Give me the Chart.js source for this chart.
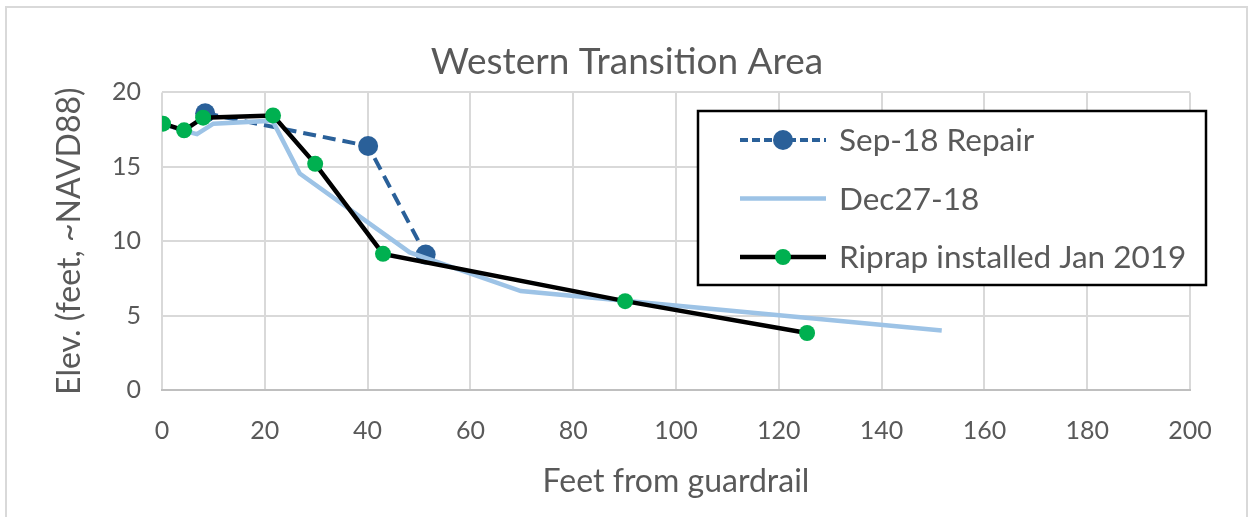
<!DOCTYPE html>
<html>
<head>
<meta charset="utf-8">
<script src="https://cdn.jsdelivr.net/npm/chart.js@4/dist/chart.umd.min.js"></script>
<style>
  html, body { margin: 0; padding: 0; background: #ffffff; }
  #wrap { width: 1254px; height: 517px; }
</style>
</head>
<body>
<div id="wrap"><canvas id="chart" width="1254" height="517"></canvas></div>
<script>
// Cross-section profiles: elevation vs. distance from the guardrail
const chartTitle = 'Western Transition Area';
const xAxisTitle = 'Feet from guardrail';
const yAxisTitle = 'Elev. (feet, ~NAVD88)';

const seriesNames = ['Sep-18 Repair', 'Dec27-18', 'Riprap installed Jan 2019'];

const sepFeet = [8.4, 40.1, 51.3];
const sepElev = [18.6, 16.4, 9.1];

const decFeet = [0, 4.5, 6.8, 10, 21.5, 26.8, 48.2, 69.8, 151.7];
const decElev = [17.9, 17.4, 17.2, 17.9, 18.1, 14.55, 9.25, 6.65, 4.0];

const ripFeet = [0.2, 4.3, 8.0, 21.6, 29.8, 43.0, 90.1, 125.5];
const ripElev = [17.9, 17.45, 18.3, 18.45, 15.2, 9.15, 5.97, 3.83];

const xTickMin = 0, xTickMax = 200, xTickStep = 20;
const yTickMin = 0, yTickMax = 20, yTickStep = 5;

const textGray = '#595959';
const fontFamily = 'Lato, "Open Sans", sans-serif';

function toPoints(xs, ys) {
  return xs.map((x, i) => ({ x: x, y: ys[i] }));
}

// White page with the light grey chart frame
const framePlugin = {
  id: 'frame',
  beforeDraw(chart) {
    const ctx = chart.ctx;
    ctx.save();
    ctx.fillStyle = '#ffffff';
    ctx.fillRect(0, 0, chart.width, chart.height);
    ctx.strokeStyle = '#d9d9d9';
    ctx.lineWidth = 2;
    ctx.strokeRect(6, 7, chart.width - 13, chart.height + 10);
    ctx.restore();
  }
};

// Boxed legend sitting inside the plot area, upper right
const boxLegendPlugin = {
  id: 'boxLegend',
  afterDraw(chart) {
    const ctx = chart.ctx;
    const box = { left: 698, top: 111, width: 508, height: 174 };
    const rowGap = 58.5;
    const firstRow = box.top + 29;
    const lineStart = box.left + 42, lineEnd = box.left + 128;
    const textX = box.left + 141;
    ctx.save();
    ctx.fillStyle = '#ffffff';
    ctx.fillRect(box.left, box.top, box.width, box.height);
    ctx.strokeStyle = '#000000';
    ctx.lineWidth = 2.5;
    ctx.strokeRect(box.left, box.top, box.width, box.height);
    [0, 1, 2].forEach((idx, row) => {
      const ds = chart.data.datasets[idx];
      const y = firstRow + row * rowGap;
      ctx.beginPath();
      ctx.strokeStyle = ds.borderColor;
      ctx.lineWidth = ds.borderWidth;
      ctx.setLineDash(ds.legendDash || []);
      ctx.moveTo(lineStart, y);
      ctx.lineTo(lineEnd, y);
      ctx.stroke();
      ctx.setLineDash([]);
      if (ds.pointRadius > 0) {
        ctx.beginPath();
        ctx.fillStyle = ds.pointBackgroundColor;
        ctx.arc((lineStart + lineEnd) / 2, y, ds.pointRadius, 0, Math.PI * 2);
        ctx.fill();
      }
      ctx.fillStyle = textGray;
      ctx.font = '31.5px ' + fontFamily;
      ctx.textAlign = 'left';
      ctx.textBaseline = 'middle';
      ctx.fillText(ds.label, textX, y + 1);
    });
    ctx.restore();
  }
};

const data = {
  datasets: [
    {
      label: seriesNames[0],
      data: toPoints(sepFeet, sepElev),
      showLine: true,
      borderColor: '#2a6099',
      backgroundColor: '#2a6099',
      pointBackgroundColor: '#2a6099',
      pointBorderWidth: 0,
      borderWidth: 4,
      borderDash: [13, 7],
      legendDash: [8, 4],
      pointRadius: 10,
      order: 3
    },
    {
      label: seriesNames[1],
      data: toPoints(decFeet, decElev),
      showLine: true,
      borderColor: '#9dc3e6',
      backgroundColor: '#9dc3e6',
      borderWidth: 4.5,
      pointRadius: 0,
      order: 2
    },
    {
      label: seriesNames[2],
      data: toPoints(ripFeet, ripElev),
      showLine: true,
      borderColor: '#000000',
      backgroundColor: '#00b050',
      pointBackgroundColor: '#00b050',
      pointBorderWidth: 0,
      borderWidth: 4.5,
      pointRadius: 8,
      order: 1
    }
  ]
};

new Chart(document.getElementById('chart'), {
  type: 'scatter',
  data: data,
  plugins: [framePlugin, boxLegendPlugin],
  options: {
    responsive: false,
    animation: false,
    devicePixelRatio: 1,
    layout: { padding: { left: 0, top: 10, right: 0, bottom: 0 } },
    plugins: {
      legend: { display: false },
      tooltip: { enabled: false },
      title: {
        display: true,
        text: chartTitle,
        color: textGray,
        font: { family: fontFamily, size: 37, weight: 'normal' },
        padding: { top: 30, bottom: 8 }
      }
    },
    scales: {
      x: {
        type: 'linear',
        min: xTickMin,
        max: xTickMax,
        afterFit(scale) { scale.height = 127; },
        grid: { color: '#d9d9d9', lineWidth: 2, drawTicks: false },
        border: { display: true, color: '#bfbfbf', width: 2 },
        ticks: {
          stepSize: xTickStep,
          color: textGray,
          padding: 26,
          font: { family: fontFamily, size: 25 }
        },
        title: {
          display: true,
          text: xAxisTitle,
          color: textGray,
          font: { family: fontFamily, size: 32 },
          padding: { top: 0, bottom: 16 }
        }
      },
      y: {
        type: 'linear',
        min: yTickMin,
        max: yTickMax,
        afterFit(scale) { scale.width = 162; },
        grid: { color: '#d9d9d9', lineWidth: 2, drawTicks: false },
        border: { display: false },
        ticks: {
          stepSize: yTickStep,
          color: textGray,
          padding: 21,
          font: { family: fontFamily, size: 25 }
        },
        title: {
          display: true,
          text: yAxisTitle,
          color: textGray,
          font: { family: fontFamily, size: 32 },
          padding: { top: 50, bottom: 0 }
        }
      },
      // empty margin on the right side of the plot
      yMargin: {
        type: 'linear',
        position: 'right',
        min: yTickMin,
        max: yTickMax,
        afterFit(scale) { scale.width = 64; },
        grid: { display: false, drawTicks: false },
        border: { display: false },
        ticks: { display: false }
      }
    }
  }
});
</script>
</body>
</html>
